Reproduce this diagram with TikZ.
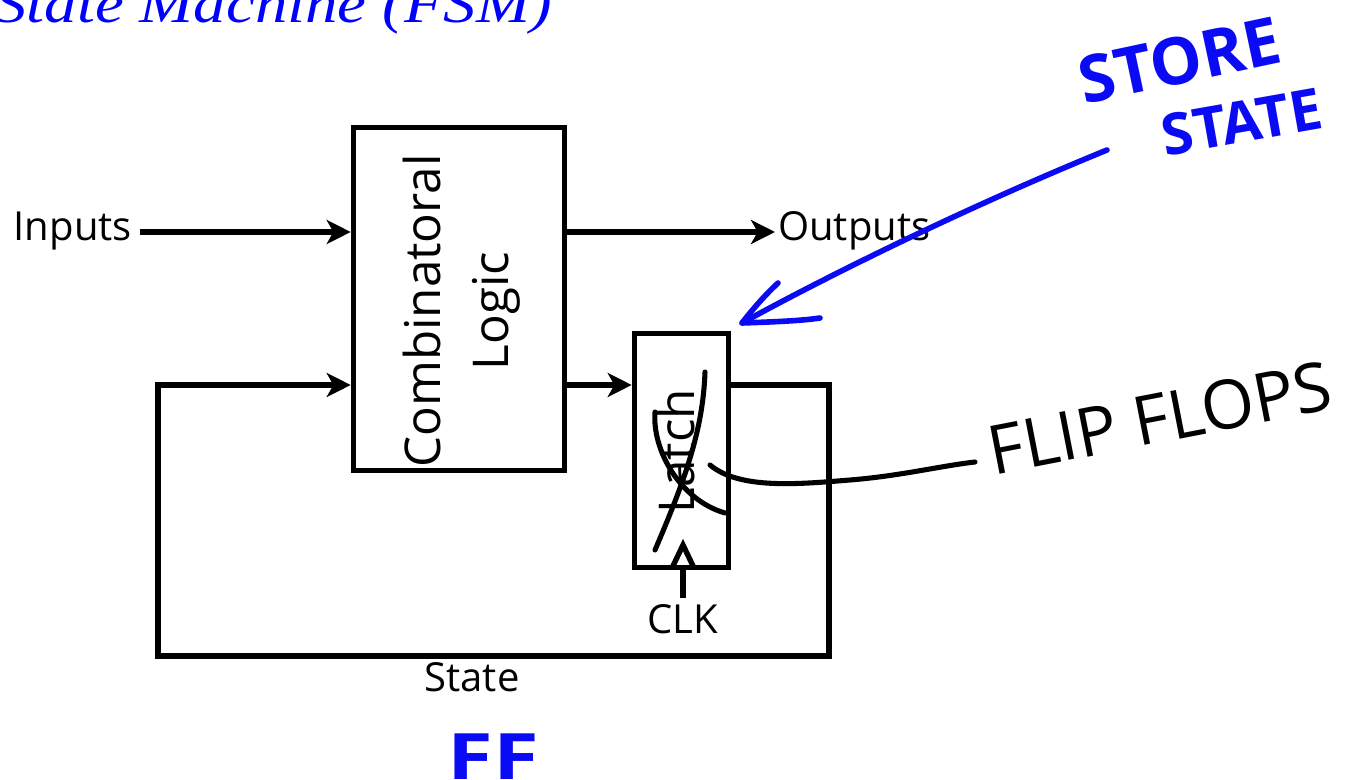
\documentclass[tikz,border=0pt]{standalone}
\usepackage{fontspec}
\setmainfont{Liberation Serif}
\newfontfamily\labfont{Open Sans}
\newfontfamily\handfont{Open Sans}
\usetikzlibrary{arrows.meta}
\definecolor{ink}{RGB}{10,10,245}
\tikzset{
  blk/.style={draw, line width=4.2pt, inner sep=0pt},
  lab/.style={inner sep=0pt, font=\labfont\fontsize{30pt}{36pt}\selectfont},
  boxlab/.style={inner sep=0pt, rotate=90, align=center, font=\labfont\fontsize{37pt}{51pt}\selectfont},
  wire/.style={line width=4pt},
  arr/.style={wire, -{Stealth[length=18pt, width=18pt, inset=5pt]}},
  pen/.style={line width=3.8pt, line cap=round, line join=round},
  bluepen/.style={pen, ink, line width=4.2pt},
  handblue/.style={inner sep=0pt, text=ink, font=\handfont\bfseries\fontsize{#1}{#1}\selectfont},
  handblack/.style={inner sep=0pt, text=black, font=\handfont\fontsize{#1}{#1}\selectfont},
}
\begin{document}
\begin{tikzpicture}[x=0.75pt, y=-0.75pt]
\useasboundingbox (0,0) rectangle (1355,780);

% title
\node[anchor=base west, inner sep=0pt, text=blue, xscale=1.17, transform shape, font=\itshape\fontsize{41.5pt}{50pt}\selectfont] (title) at (-6,23) {State Machine (FSM)};

% boxes
\node[blk, minimum width=158.25pt, minimum height=257.25pt] (comb) at (459,299) {};
\node[boxlab] (combtext) at (462,311) {Combinatoral\\Logic};
\node[blk, minimum width=70.5pt, minimum height=175.5pt] (latch) at (681.5,450.5) {};
\node[boxlab] (latchtext) at (676,451) {Latch};

% labels
\node[lab, anchor=base east] (inputs) at (132,241) {Inputs};
\node[lab, anchor=base west] (outputs) at (778,241) {Outputs};
\node[lab, anchor=base] (clk) at (683,633) {CLK};
\node[lab, anchor=base] (state) at (472,691) {State};

% connectors
\coordinate (inL) at (140,232);
\coordinate (outR) at (775,232);
\draw[arr] (inL) -- (inL -| comb.west);
\draw[arr] (comb.east |- outR) -- (outR);
\coordinate (fb) at (600,385);
\draw[arr] (comb.east |- fb) -- (latch.west |- fb);
\coordinate (c1) at (829,385);
\coordinate (c2) at (829,656);
\coordinate (c3) at (158,656);
\coordinate (c4) at (158,385);
\draw[arr, line join=miter] (latch.east |- c1) -- (c1) -- (c2) -- (c3) -- (c4) -- (c4 -| comb.west);
\coordinate (clkin) at (683,598);
\draw[wire] (clkin) -- (clkin |- latch.south);
\coordinate (tip) at (683,545);
\draw[wire, line join=miter] (672,568) -- (tip) -- (694,568);

% handwritten annotations
\draw[bluepen] (1107,150) .. controls (960,210) and (820,280) .. (742,323);
\draw[bluepen] (778,283) .. controls (765,295) and (752,310) .. (742,323) .. controls (770,322) and (800,321) .. (820,318);
\node[handblue=49pt, rotate=12] (store) at (1180,60) {STORE};
\node[handblue=43pt, rotate=10] (stst) at (1242,122) {STATE};
\node[handblue=48pt, xscale=1.3, transform shape] (ff) at (493,757) {FF};

\draw[pen] (705,372) .. controls (703,430) and (685,480) .. (655,550);
\draw[pen] (655,412) .. controls (652,450) and (680,500) .. (725,513);
\draw[pen] (710,465) .. controls (740,490) and (800,484) .. (850,480) .. controls (900,476) and (940,466) .. (975,462);
\node[handblack=51pt, rotate=11] (flip) at (1160,418) {FLIP FLOPS};
\end{tikzpicture}
\end{document}
